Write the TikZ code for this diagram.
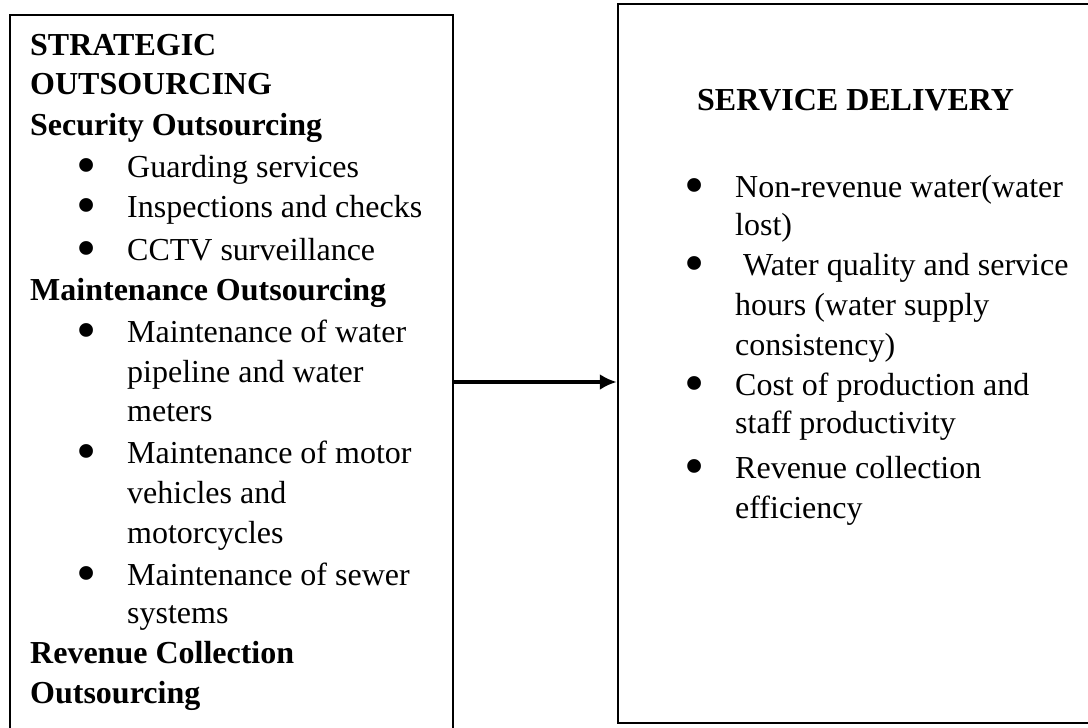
\documentclass[tikz,border=0pt]{standalone}
\usepackage{fontspec}
\setmainfont{Liberation Serif}
\usepackage{graphicx}
\usepackage{tikz}
\usetikzlibrary{arrows.meta}

% big round bullet with a fixed gap to the text
\newcommand{\itembul}{\makebox[51pt][l]{\smash{\raisebox{-7pt}{\scalebox{1.8}{\textbullet}}}}}

\begin{document}
\begin{tikzpicture}[x=1pt,y=-1pt,
  box/.style={draw, line width=2.5pt, inner sep=0pt},
  line/.style={anchor=base west, inner sep=0pt, font=\fontsize{32}{40}\selectfont}]
\useasboundingbox (0,0) rectangle (1088,728);
\node [box, minimum width=443pt, minimum height=730pt] (strategic) at (231.5,380) {};
\node [box, minimum width=482pt, minimum height=719pt] (delivery) at (859,363.5) {};
% left column
\foreach \x/\y/\t in {30/55/\textbf{STRATEGIC}, 30/94/\textbf{OUTSOURCING},
  30/135/\textbf{Security Outsourcing},
  76/177/\itembul Guarding services, 76/217/\itembul Inspections and checks,
  76/260/\itembul CCTV surveillance,
  30/300/\textbf{Maintenance Outsourcing},
  76/342/\itembul Maintenance of water, 127/382/pipeline and water, 127/421/meters,
  76/463/\itembul Maintenance of motor, 127/503/vehicles and, 127/543/motorcycles,
  76/585/\itembul Maintenance of sewer, 127/623/systems,
  30/663/\textbf{Revenue Collection}, 30/703/\textbf{Outsourcing}}
  \node [line] (s\y) at (\x,\y) {\t};
% right column
\foreach \x/\y/\t in {697/110/\textbf{SERVICE DELIVERY},
  684/197/\itembul Non-revenue water(water, 735/235/lost),
  684/275/\itembul\ Water quality and service, 735/315/hours (water supply,
  735/355/consistency),
  684/395/\itembul Cost of production and, 735/433/staff productivity,
  684/478/\itembul Revenue collection, 735/518/efficiency}
  \node [line] (d\y) at (\x,\y) {\t};
\coordinate (arr) at (453,382);
\draw [line width=4pt, -{Latex[length=17pt,width=16pt]}] (strategic.east |- arr) -- (delivery.west |- arr);
\end{tikzpicture}
\end{document}
